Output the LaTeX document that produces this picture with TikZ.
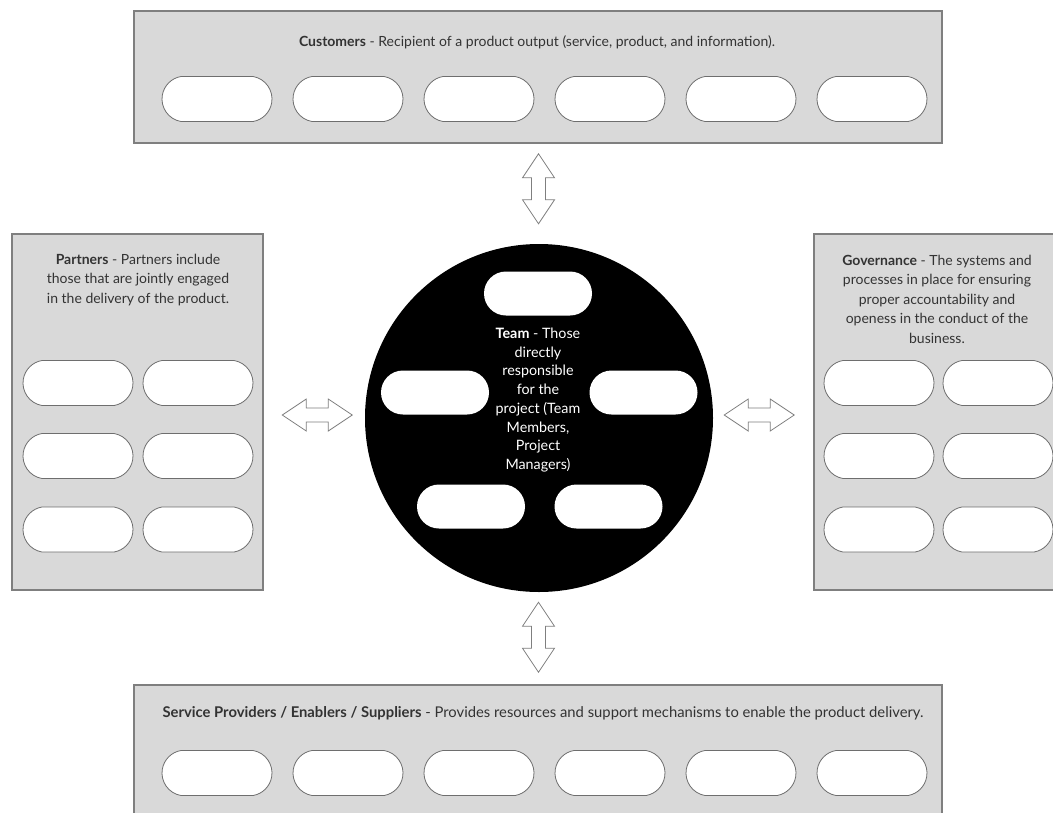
\documentclass[tikz,border=0pt]{standalone}
\usepackage{fontspec}
\setmainfont{Lato}
\usetikzlibrary{shapes.misc,calc}
\definecolor{panelfill}{HTML}{D9D9D9}
\definecolor{panelline}{HTML}{7F7F7F}
\definecolor{pillline}{HTML}{6E6E6E}
\definecolor{inktext}{HTML}{333333}
\tikzset{
  panel/.style={draw=panelline, line width=1.5pt, fill=panelfill, rectangle, inner sep=0pt},
  pill/.style={draw=pillline, line width=0.8pt, fill=white, rounded rectangle, rounded rectangle arc length=160,
               minimum width=110pt, minimum height=45pt, inner sep=0pt},
  teampill/.style={fill=white, rounded rectangle, minimum width=108pt, minimum height=44pt, inner sep=0pt},
  desc/.style={text=inktext, font=\fontsize{14}{19.5}\selectfont, align=center, inner sep=0pt},
  linkline/.style={draw=panelline, line width=0.8pt, fill=white, line join=miter},
  % hollow two-way block arrow, centred on the current position, pointing along x
  pics/twoway/.style={code={
    \draw[linkline] (-35,0) -- (-11,-16) -- (-11,-7) -- (11,-7) -- (11,-16) -- (35,0)
                    -- (11,16) -- (11,7) -- (-11,7) -- (-11,16) -- cycle;
  }},
}
\begin{document}
\begin{tikzpicture}[x=1pt, y=-1pt]
  \clip (0,0) rectangle (1053,812);
  \fill[white] (0,0) rectangle (1053,812);

  % outer panels
  \node[panel, minimum width=808pt, minimum height=132pt] (cust) at (538,77) {};
  \node[panel, minimum width=251pt, minimum height=356pt] (part) at (137.5,412) {};
  \node[panel, minimum width=252pt, minimum height=356pt] (gov)  at (940,412) {};
  \node[panel, minimum width=808pt, minimum height=150pt] (supp) at (538,760) {};

  % team circle
  \node[circle, fill=black, minimum size=348pt, inner sep=0pt] (team) at (539,418) {};

  % panel captions
  \node[desc] (custtext) at (537,42) {\textbf{Customers} - Recipient of a product output (service, product, and information).};
  \node[desc] (parttext) at (138,280) {\textbf{Partners} - Partners include\\those that are jointly engaged\\in the delivery of the product.};
  \node[desc] (govtext) at (937,299) {\textbf{Governance} - The systems and\\processes in place for ensuring\\proper accountability and\\openess in the conduct of the\\business.};
  \node[desc, font=\fontsize{14.8}{19.5}\selectfont] (supptext) at (543,713) {\textbf{Service Providers / Enablers / Suppliers} - Provides resources and support mechanisms to enable the product delivery.};
  \node[desc, text=white, font=\fontsize{14.3}{18.7}\selectfont] (teamtext) at (538,400)
    {\textbf{Team} - Those\\directly\\responsible\\for the\\project (Team\\Members,\\Project\\Managers)};

  % customer and supplier slots
  \foreach \i in {0,...,5} {
    \node[pill] (c\i) at (217+131*\i, 99) {};
    \node[pill] (s\i) at (217+131*\i, 773) {};
  }

  % partner and governance slots
  \foreach \r/\yy in {0/383, 1/456, 2/529.5} {
    \node[pill] (pl\r) at (78,\yy) {};
    \node[pill] (pr\r) at (198,\yy) {};
    \node[pill] (gl\r) at (879,\yy) {};
    \node[pill] (gr\r) at (998,\yy) {};
  }

  % team slots
  \node[teampill] (t0) at (538,293.5) {};
  \node[teampill] (t1) at (435,392.5) {};
  \node[teampill] (t2) at (643.5,392.5) {};
  \node[teampill] (t3) at (471,506.5) {};
  \node[teampill] (t4) at (608.5,506.5) {};

  % two-way links between the team and each group
  \coordinate (acust) at ($(cust.south)!0.5!(team.north)$);
  \coordinate (asupp) at ($(team.south)!0.5!(supp.north)$);
  \coordinate (apart) at ($(part.east)!0.5!(team.west)$);
  \coordinate (agov)  at ($(team.east)!0.5!(gov.west)$);
  \pic[rotate=90] at ([yshift=5pt]acust) {twoway};
  \pic[rotate=90] at ([yshift=1pt]asupp) {twoway};
  \pic at ([xshift=3pt]apart) {twoway};
  \pic at ([xshift=-4pt]agov) {twoway};
\end{tikzpicture}
\end{document}
